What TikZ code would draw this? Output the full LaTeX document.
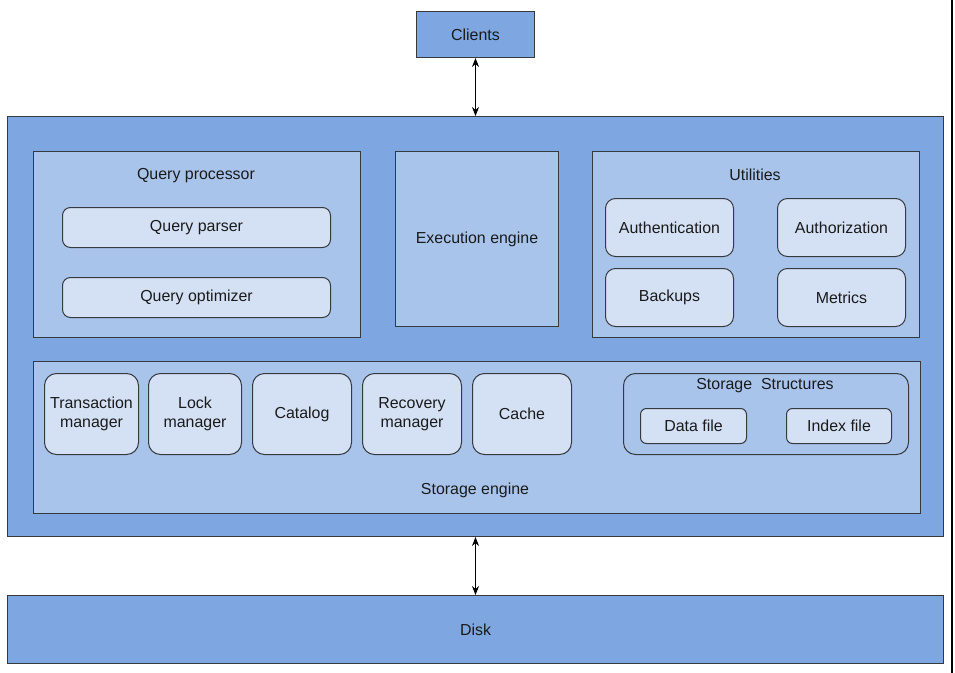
\documentclass[tikz,border=0pt]{standalone}
\usepackage{fontspec}
\setmainfont{Liberation Sans}
\usetikzlibrary{arrows.meta}
\definecolor{outerfill}{HTML}{7EA6E0}
\definecolor{midfill}{HTML}{A9C4EB}
\definecolor{innerfill}{HTML}{D4E1F5}
\definecolor{edge}{HTML}{36393D}
\definecolor{ink}{HTML}{1A1A1A}
\begin{document}
\begin{tikzpicture}[x=1bp,y=-1bp,
  every node/.style={font=\fontsize{16}{19}\selectfont, text=ink, inner sep=0pt},
  sz/.style 2 args={minimum width=#1bp, minimum height=#2bp},
  block/.style={draw=edge, line width=1bp, anchor=north west, align=center},
  outer/.style={block, fill=outerfill},
  group/.style={block, fill=midfill},
  part/.style={block, fill=innerfill, rounded corners=8bp},
  tallpart/.style={block, fill=innerfill, rounded corners=12bp},
  title/.style={anchor=center},
  link/.style={{Stealth[length=9bp,width=7bp]}-{Stealth[length=9bp,width=7bp]}, line width=0.9bp, black},
]
\useasboundingbox (0,0) rectangle (955,673);

% clients and the database system
\node[outer, sz={118}{46}] (clients) at (416,11) {Clients};
\node[outer, sz={936}{420}] (dbms) at (7,116) {};

% query processor
\node[group, sz={327}{186}] (qp) at (33,151) {};
\node[title] (qptitle) at (196,176) {Query processor};
\node[part, sz={268}{40}] (parser) at (62,207) {Query parser};
\node[part, sz={268}{40}] (optimizer) at (62,277) {Query optimizer};

% execution engine
\node[group, sz={163}{175}] (exec) at (395,151) {Execution engine};

% utilities
\node[group, sz={327}{186}] (util) at (592,151) {};
\node[title] (utiltitle) at (755,175) {Utilities};
\node[part, rounded corners=10bp, sz={128}{58}] (authn) at (605,198) {Authentication};
\node[part, rounded corners=10bp, sz={128}{58}] (authz) at (777,198) {Authorization};
\node[part, rounded corners=10bp, sz={128}{58}] (backups) at (605,268) {Backups};
\node[part, rounded corners=10bp, sz={128}{58}] (metrics) at (777,268) {Metrics};

% storage engine
\node[group, sz={887}{152}] (storage) at (33,361) {};
\node[title] (storagetitle) at (475,490) {Storage engine};
\node[tallpart, sz={94}{81}] (txn) at (44,373) {Transaction\\manager};
\node[tallpart, sz={93}{81}] (lock) at (148,373) {Lock\\manager};
\node[tallpart, sz={99}{81}] (catalog) at (252,373) {Catalog};
\node[tallpart, sz={99}{81}] (recovery) at (362,373) {Recovery\\manager};
\node[tallpart, sz={99}{81}] (cache) at (472,373) {Cache};

% storage structures
\node[group, rounded corners=12bp, sz={285}{81}] (structs) at (623,373) {};
\node[title] (structstitle) at (765,386) {Storage\ \ Structures};
\node[part, rounded corners=6bp, sz={106}{35}] (datafile) at (640,408) {Data file};
\node[part, rounded corners=6bp, sz={105}{35}] (indexfile) at (786,408) {Index file};

% disk
\node[outer, sz={936}{68}] (disk) at (7,595) {Disk};

% connections
\draw[link] (clients.south) -- (dbms.north);
\draw[link] (dbms.south) -- (disk.north);

% right-hand rule
\coordinate (ruletop) at (952,0);
\coordinate (rulebottom) at (952,673);
\draw[line width=2bp, black] (ruletop) -- (rulebottom);
\end{tikzpicture}
\end{document}
